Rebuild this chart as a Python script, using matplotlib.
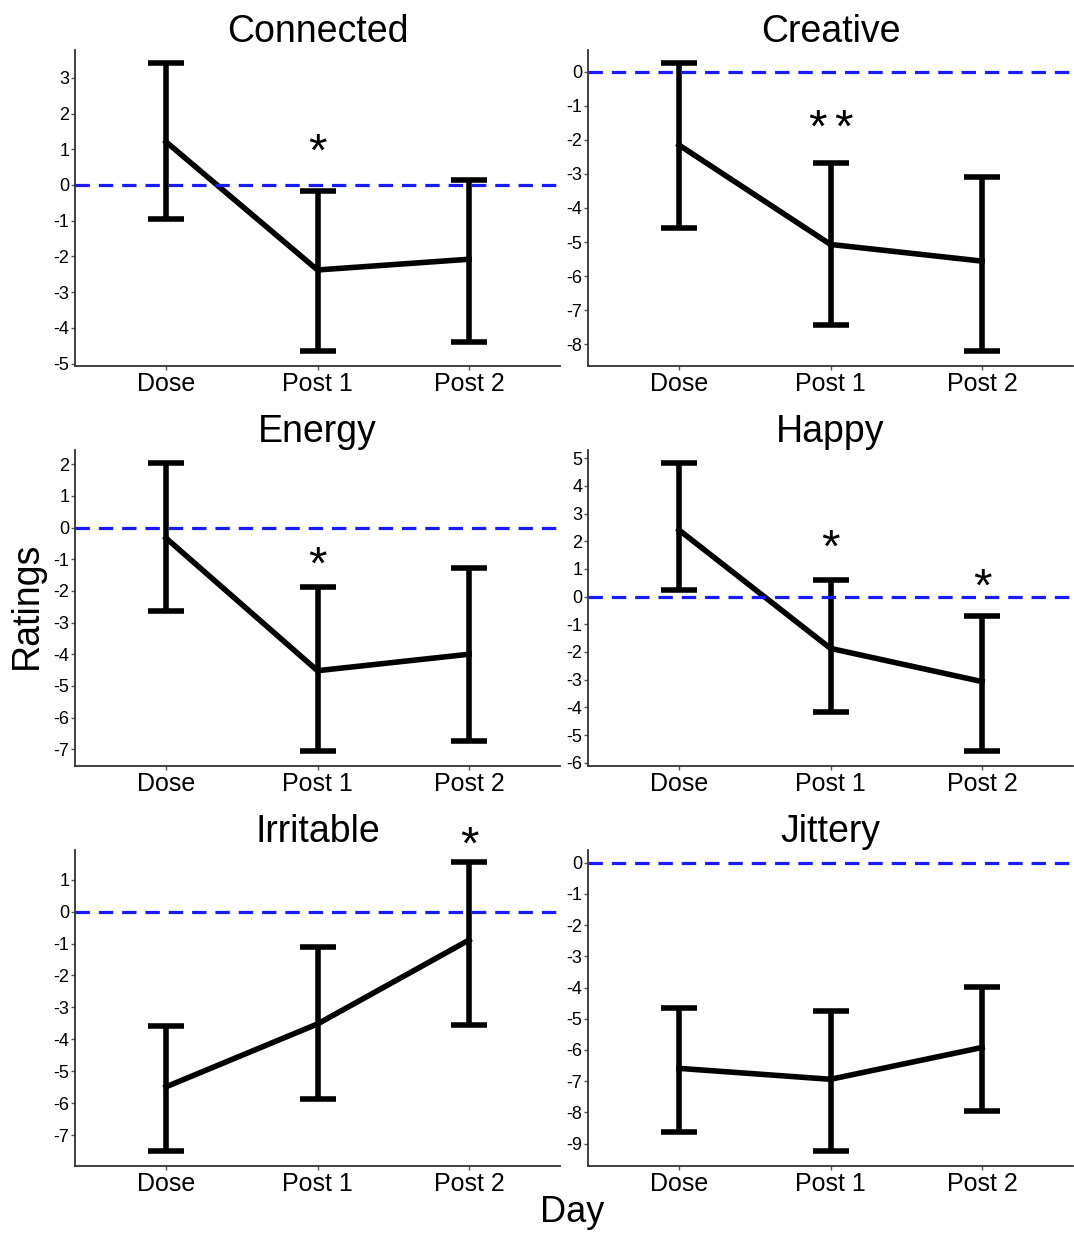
import matplotlib.pyplot as plt

plt.rcParams['font.family'] = ['Liberation Sans', 'DejaVu Sans']
plt.rcParams['axes.unicode_minus'] = False

days = ["Dose", "Post 1", "Post 2"]
panels = ["Connected", "Creative", "Energy", "Happy", "Irritable", "Jittery"]

# means, upper and lower error limits
means = [
    [1.21, -2.38, -2.08],
    [-2.15, -5.07, -5.56],
    [-0.33, -4.52, -4.00],
    [2.41, -1.87, -3.07],
    [-5.49, -3.52, -0.89],
    [-6.59, -6.94, -5.92],
]
upper = [
    [3.41, -0.17, 0.14],
    [0.26, -2.69, -3.10],
    [2.03, -1.88, -1.28],
    [4.82, 0.60, -0.70],
    [-3.58, -1.10, 1.54],
    [-4.64, -4.74, -3.97],
]
lower = [
    [-0.96, -4.65, -4.39],
    [-4.60, -7.43, -8.20],
    [-2.63, -7.05, -6.73],
    [0.24, -4.18, -5.58],
    [-7.50, -5.88, -3.55],
    [-8.64, -9.24, -7.95],
]

y_limits = [(-5.07, 3.78), (-8.64, 0.64), (-7.53, 2.45),
            (-6.12, 5.30), (-7.97, 1.93), (-9.72, 0.41)]
y_ticks = [range(-5, 4), range(-8, 1), range(-7, 3),
           range(-6, 6), range(-7, 2), range(-9, 1)]

# significance stars: (panel, day index, y, number of stars)
stars = [
    (0, 1, 1.06, 1),
    (1, 1, -1.50, 2),
    (2, 1, -1.02, 1),
    (3, 1, 1.93, 1),
    (3, 2, 0.54, 1),
    (4, 2, 2.25, 1),
]

W, H = 1074, 1233
fig = plt.figure(figsize=(W / 100, H / 100), dpi=100)

col_left = [75, 588]
col_width = 485
row_top = [50, 450, 850]
row_height = 316

x = [1, 2, 3]
axes = []
for i, name in enumerate(panels):
    r, c = divmod(i, 2)
    ax = fig.add_axes([col_left[c] / W, 1 - (row_top[r] + row_height) / H,
                       col_width / W, row_height / H])
    axes.append(ax)

    lo = [m - l for m, l in zip(means[i], lower[i])]
    hi = [u - m for m, u in zip(means[i], upper[i])]
    ax.errorbar(x, means[i], yerr=[lo, hi], color="black", lw=4,
                elinewidth=4, capsize=13, capthick=4, zorder=3)
    ax.axhline(0, color="#1a1aff", lw=2.3, ls=(0, (4.5, 2.8)), zorder=4)

    ax.set_xlim(0.4, 3.6)
    ax.set_ylim(*y_limits[i])
    ax.set_xticks(x)
    ax.set_xticklabels(days, fontsize=18)
    ax.set_yticks(list(y_ticks[i]))
    ax.tick_params(axis="y", labelsize=13, length=3, width=1, color="#555555", pad=1)
    ax.tick_params(axis="x", length=3, width=1, color="#555555", pad=1)
    for s in ["top", "right"]:
        ax.spines[s].set_visible(False)
    for s in ["left", "bottom"]:
        ax.spines[s].set_linewidth(1.3)
        ax.spines[s].set_color("#333333")
    ax.set_title(name, fontsize=27, pad=5)

for p, d, y, n in stars:
    offsets = [0] if n == 1 else [-9.5, 9.5]
    for dx in offsets:
        axes[p].annotate("*", (x[d], y), xytext=(dx, -13.5), textcoords="offset points",
                         ha="center", va="baseline", fontsize=34, annotation_clip=False)

fig.text(27 / W, 1 - 605 / H, "Ratings", rotation=90, fontsize=27,
         ha="center", va="center")
fig.text(572 / W, 1 - 1213 / H, "Day", fontsize=26, ha="center", va="center")

fig.savefig("out.png", dpi=100)
